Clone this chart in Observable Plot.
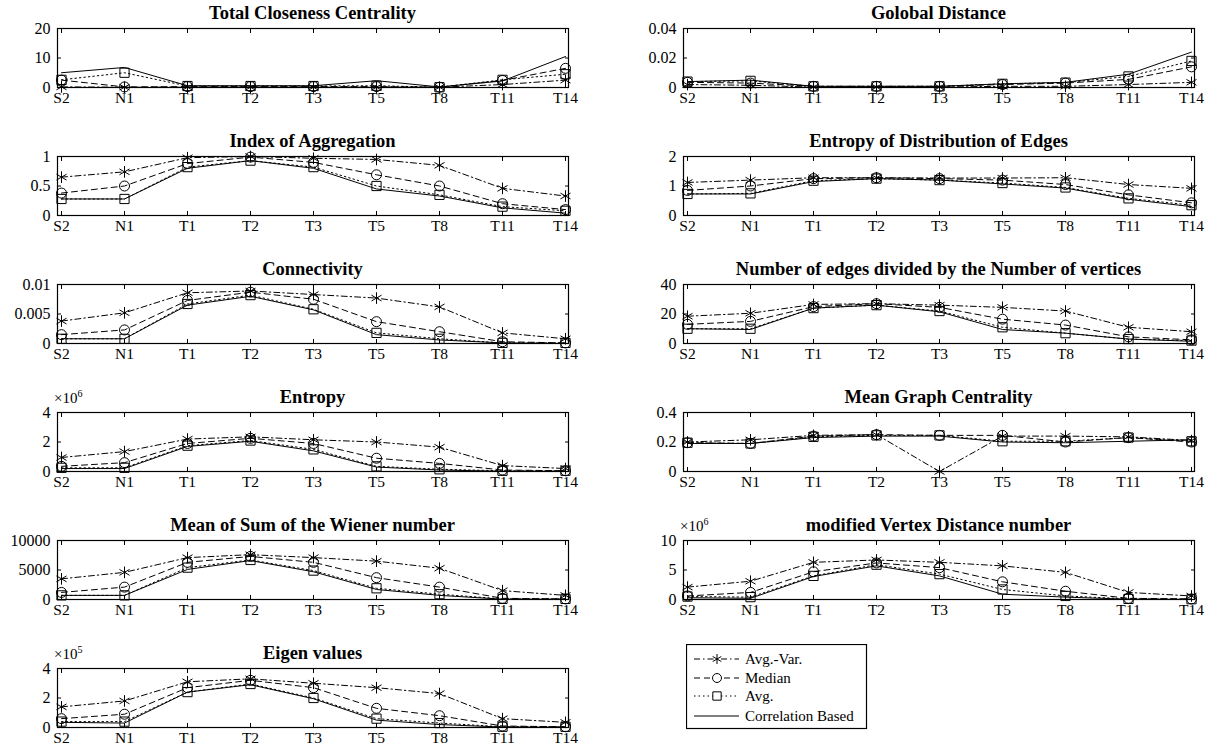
<!DOCTYPE html>
<html><head><meta charset="utf-8">
<script src="https://cdn.jsdelivr.net/npm/d3@7"></script>
<script src="https://cdn.jsdelivr.net/npm/@observablehq/plot@0.6"></script>
<style>
body{margin:0;background:#fff;}
#root{position:relative;width:1216px;height:747px;overflow:hidden;font-family:"Liberation Serif","Times New Roman",serif;color:#000;}
#root svg text{font-family:"Liberation Serif","Times New Roman",serif !important;}
.title{position:absolute;font-weight:bold;font-size:18.5px;white-space:nowrap;transform:translate(-50%,-50%);line-height:1;}
.expo{position:absolute;font-size:15px;line-height:1;white-space:nowrap;}
.expo sup{font-size:10px;vertical-align:6px;}
.panel{position:absolute;}
</style></head><body><div id="root"></div>
<script>
const categories = ["S2","N1","T1","T2","T3","T5","T8","T11","T14"];
const seriesNames = ["Avg.-Var.","Median","Avg.","Correlation Based"];

// Total Closeness Centrality
const closenessAvgVar = [0.2, 0.1, 0.1, 0.1, 0.1, 0.1, 0.1, 1.0, 2.5];
const closenessMedian = [2.5, 0.2, 0.3, 0.3, 0.3, 0.3, 0.1, 2.4, 6.5];
const closenessAvg    = [2.6, 5.0, 0.5, 0.5, 0.5, 0.6, 0.1, 2.6, 4.5];
const closenessCorr   = [5.0, 6.8, 0.6, 0.6, 0.6, 2.3, 0.2, 2.2, 10.5];
// Index of Aggregation
const aggregationAvgVar = [0.65, 0.74, 0.98, 1.0, 0.97, 0.95, 0.85, 0.46, 0.33];
const aggregationMedian = [0.38, 0.5, 0.88, 0.99, 0.9, 0.69, 0.5, 0.2, 0.1];
const aggregationAvg    = [0.28, 0.28, 0.82, 0.93, 0.82, 0.5, 0.35, 0.15, 0.08];
const aggregationCorr   = [0.28, 0.28, 0.8, 0.93, 0.8, 0.45, 0.33, 0.13, 0.04];
// Connectivity
const connectivityAvgVar = [0.0038, 0.0052, 0.0086, 0.0089, 0.0083, 0.0077, 0.0062, 0.0018, 0.0008];
const connectivityMedian = [0.0015, 0.0023, 0.0073, 0.0087, 0.0075, 0.0037, 0.002, 0.0003, 0.0001];
const connectivityAvg    = [0.0008, 0.0008, 0.0067, 0.0082, 0.0058, 0.0018, 0.0008, 0.0001, 0.0001];
const connectivityCorr   = [0.0008, 0.0008, 0.0065, 0.008, 0.0057, 0.0015, 0.0006, 0.0001, 0.0];
// Entropy (x10^6)
const entropyAvgVar = [0.95, 1.35, 2.2, 2.35, 2.15, 2.0, 1.65, 0.4, 0.2];
const entropyMedian = [0.35, 0.6, 1.9, 2.25, 1.9, 0.9, 0.55, 0.1, 0.05];
const entropyAvg    = [0.25, 0.25, 1.75, 2.1, 1.5, 0.35, 0.15, 0.05, 0.05];
const entropyCorr   = [0.2, 0.2, 1.7, 2.05, 1.4, 0.3, 0.1, 0.02, 0.02];
// Mean of Sum of the Wiener number
const wienerAvgVar = [3500, 4600, 7100, 7600, 7100, 6500, 5300, 1500, 700];
const wienerMedian = [1200, 2100, 6300, 7300, 6300, 3700, 2100, 200, 100];
const wienerAvg    = [700, 700, 5400, 6700, 4900, 1900, 900, 100, 100];
const wienerCorr   = [700, 700, 5100, 6600, 4700, 1700, 700, 50, 50];
// Eigen values (x10^5)
const eigenAvgVar = [1.4, 1.8, 3.1, 3.3, 3.0, 2.7, 2.3, 0.6, 0.35];
const eigenMedian = [0.6, 0.9, 2.7, 3.2, 2.7, 1.3, 0.8, 0.1, 0.05];
const eigenAvg    = [0.4, 0.4, 2.4, 2.95, 2.0, 0.6, 0.3, 0.05, 0.05];
const eigenCorr   = [0.35, 0.3, 2.4, 2.9, 1.95, 0.5, 0.2, 0.03, 0.02];
// Golobal Distance
const distanceAvgVar = [0.002, 0.0015, 0.0003, 0.0003, 0.0003, 0.0008, 0.0008, 0.002, 0.0035];
const distanceMedian = [0.0035, 0.003, 0.0008, 0.0008, 0.0008, 0.002, 0.003, 0.0055, 0.014];
const distanceAvg    = [0.004, 0.0045, 0.0008, 0.0008, 0.0008, 0.0025, 0.0033, 0.0075, 0.018];
const distanceCorr   = [0.004, 0.005, 0.0008, 0.0008, 0.0008, 0.0025, 0.0035, 0.009, 0.024];
// Entropy of Distribution of Edges
const edgeEntropyAvgVar = [1.12, 1.2, 1.28, 1.28, 1.27, 1.27, 1.28, 1.05, 0.92];
const edgeEntropyMedian = [0.85, 1.0, 1.25, 1.28, 1.25, 1.2, 1.05, 0.7, 0.43];
const edgeEntropyAvg    = [0.73, 0.75, 1.18, 1.25, 1.2, 1.1, 0.95, 0.58, 0.35];
const edgeEntropyCorr   = [0.73, 0.73, 1.15, 1.25, 1.2, 1.07, 0.93, 0.55, 0.3];
// Number of edges divided by the Number of vertices
const ratioAvgVar = [18.5, 20.5, 26.5, 27, 26, 24.5, 22, 11, 8];
const ratioMedian = [13, 15, 25, 27, 24.5, 16.5, 12.5, 4.5, 2.5];
const ratioAvg    = [10, 10, 24, 26, 22, 11, 7, 3, 2];
const ratioCorr   = [10, 9.5, 24, 26, 21.5, 9.5, 7, 3, 1.5];
// Mean Graph Centrality
const centralityAvgVar = [0.2, 0.215, 0.245, 0.25, 0.0, 0.24, 0.24, 0.235, 0.21];
const centralityMedian = [0.195, 0.19, 0.24, 0.25, 0.245, 0.245, 0.2, 0.23, 0.2];
const centralityAvg    = [0.195, 0.19, 0.235, 0.245, 0.245, 0.205, 0.205, 0.23, 0.205];
const centralityCorr   = [0.19, 0.19, 0.23, 0.24, 0.24, 0.2, 0.195, 0.205, 0.215];
// modified Vertex Distance number (x10^6)
const vertexAvgVar = [2.1, 3.1, 6.3, 6.7, 6.3, 5.7, 4.6, 1.2, 0.6];
const vertexMedian = [0.6, 1.2, 4.7, 6.2, 5.4, 3.0, 1.4, 0.2, 0.1];
const vertexAvg    = [0.5, 0.4, 4.0, 5.9, 4.3, 1.7, 0.6, 0.1, 0.05];
const vertexCorr   = [0.3, 0.2, 3.9, 5.7, 4.0, 0.9, 0.4, 0.05, 0.03];

const panels = [
  {title:"Total Closeness Centrality", col:0, row:0, ticks:[0,10,20], series:[closenessAvgVar, closenessMedian, closenessAvg, closenessCorr]},
  {title:"Index of Aggregation", col:0, row:1, ticks:[0,0.5,1], series:[aggregationAvgVar, aggregationMedian, aggregationAvg, aggregationCorr]},
  {title:"Connectivity", col:0, row:2, ticks:[0,0.005,0.01], series:[connectivityAvgVar, connectivityMedian, connectivityAvg, connectivityCorr]},
  {title:"Entropy", col:0, row:3, ticks:[0,2,4], expo:"6", series:[entropyAvgVar, entropyMedian, entropyAvg, entropyCorr]},
  {title:"Mean of Sum of the Wiener number", col:0, row:4, ticks:[0,5000,10000], series:[wienerAvgVar, wienerMedian, wienerAvg, wienerCorr]},
  {title:"Eigen values", col:0, row:5, ticks:[0,2,4], expo:"5", series:[eigenAvgVar, eigenMedian, eigenAvg, eigenCorr]},
  {title:"Golobal Distance", col:1, row:0, ticks:[0,0.02,0.04], series:[distanceAvgVar, distanceMedian, distanceAvg, distanceCorr]},
  {title:"Entropy of Distribution of Edges", col:1, row:1, ticks:[0,1,2], series:[edgeEntropyAvgVar, edgeEntropyMedian, edgeEntropyAvg, edgeEntropyCorr]},
  {title:"Number of edges divided by the Number of vertices", col:1, row:2, ticks:[0,20,40], series:[ratioAvgVar, ratioMedian, ratioAvg, ratioCorr]},
  {title:"Mean Graph Centrality", col:1, row:3, ticks:[0,0.2,0.4], series:[centralityAvgVar, centralityMedian, centralityAvg, centralityCorr]},
  {title:"modified Vertex Distance number", col:1, row:4, ticks:[0,5,10], expo:"6", series:[vertexAvgVar, vertexMedian, vertexAvg, vertexCorr]}
];

const styles = [
  {dash:"6,3,1.5,3", symbol:"asterisk", r:5.5},
  {dash:"6,4", symbol:"circle", r:5},
  {dash:"1.5,3", symbol:"square", r:5.2},
  {dash:null, symbol:null}
];

const root = document.getElementById("root");
const FW = 511, FH = 59, mL = 62, mR = 20, mT = 8, mB = 24;
const colLeft = [57, 683];
const rowTop = r => 28 + 128 * r;
const font = '"Liberation Serif","Times New Roman",serif';

for (const p of panels) {
  const rows = [];
  p.series.forEach((vals, si) => vals.forEach((v, i) => rows.push({cat: categories[i], v, s: si})));
  const marks = [
    Plot.axisX({anchor:"bottom", tickSize:-4, tickPadding:8, label:null, fontSize:15.5, fontFamily:font}),
    Plot.axisX({anchor:"top", tickSize:-4, tickFormat:() => "", label:null}),
    Plot.axisY({anchor:"left", ticks:p.ticks, tickSize:-4, tickPadding:11, tickFormat:d => String(d), label:null, fontSize:16, fontFamily:font}),
    Plot.axisY({anchor:"right", ticks:p.ticks, tickSize:-4, tickFormat:() => "", label:null})
  ];
  styles.forEach((st, si) => {
    const data = rows.filter(d => d.s === si);
    marks.push(Plot.line(data, {x:"cat", y:"v", stroke:"black", strokeWidth:1, strokeDasharray:st.dash}));
  });
  styles.forEach((st, si) => {
    if (!st.symbol) return;
    const data = rows.filter(d => d.s === si);
    marks.push(Plot.dot(data, {x:"cat", y:"v", symbol:st.symbol, r:st.r, stroke:"black", fill:"none", strokeWidth:1}));
  });
  marks.push(Plot.frame({stroke:"black", strokeWidth:1.2}));
  const svg = Plot.plot({
    width: FW + mL + mR, height: FH + mT + mB,
    marginLeft: mL, marginRight: mR, marginTop: mT, marginBottom: mB,
    style: {fontFamily: font, fontSize: "16px", color: "black", background: "transparent", overflow: "visible"},
    x: {type:"point", domain: categories, padding: 0},
    y: {domain: [0, p.ticks[2]]},
    marks
  });
  const left = colLeft[p.col], top = rowTop(p.row);
  svg.classList.add("panel");
  svg.style.left = (left - mL) + "px";
  svg.style.top = (top - mT) + "px";
  root.appendChild(svg);
  const t = document.createElement("div");
  t.className = "title";
  t.textContent = p.title;
  t.style.left = (left + FW / 2) + "px";
  t.style.top = (top - 15) + "px";
  root.appendChild(t);
  if (p.expo) {
    const e = document.createElement("div");
    e.className = "expo";
    e.innerHTML = "×10<sup>" + p.expo + "</sup>";
    e.style.left = (left - 3) + "px";
    e.style.top = (top - 23) + "px";
    root.appendChild(e);
  }
}

// legend
const ns = "http://www.w3.org/2000/svg";
const lg = document.createElementNS(ns, "svg");
lg.setAttribute("width", 190); lg.setAttribute("height", 90);
lg.classList.add("panel");
lg.style.left = "686px"; lg.style.top = "644px";
lg.style.fontFamily = font; lg.style.fontSize = "15px";
const rect = document.createElementNS(ns, "rect");
rect.setAttribute("x", 0.5); rect.setAttribute("y", 0.5); rect.setAttribute("width", 180); rect.setAttribute("height", 84);
rect.setAttribute("fill", "white"); rect.setAttribute("stroke", "black"); rect.setAttribute("stroke-width", 1.2);
lg.appendChild(rect);
const entryY = [15, 34, 52, 72];
styles.forEach((st, i) => {
  const y = entryY[i];
  const ln = document.createElementNS(ns, "line");
  ln.setAttribute("x1", 8); ln.setAttribute("x2", 53); ln.setAttribute("y1", y); ln.setAttribute("y2", y);
  ln.setAttribute("stroke", "black"); ln.setAttribute("stroke-width", 1);
  if (st.dash) ln.setAttribute("stroke-dasharray", st.dash);
  lg.appendChild(ln);
  if (st.symbol) {
    const g = document.createElementNS(ns, "path");
    let d;
    if (st.symbol === "asterisk") {
      const a = 5; d = "";
      for (let k = 0; k < 3; k++) { const ang = Math.PI / 2 + k * Math.PI / 3; d += `M${-a*Math.cos(ang)},${-a*Math.sin(ang)}L${a*Math.cos(ang)},${a*Math.sin(ang)}`; }
    } else if (st.symbol === "circle") {
      d = d3.symbol(d3.symbolCircle, Math.PI * 20)();
    } else {
      d = d3.symbol(d3.symbolSquare, Math.PI * 22)();
    }
    g.setAttribute("d", d);
    g.setAttribute("transform", `translate(31,${y})`);
    g.setAttribute("fill", "white"); g.setAttribute("stroke", "black"); g.setAttribute("stroke-width", 1);
    lg.appendChild(g);
  }
  const tx = document.createElementNS(ns, "text");
  tx.setAttribute("x", 59); tx.setAttribute("y", y); tx.setAttribute("dy", "0.35em");
  tx.textContent = seriesNames[i];
  lg.appendChild(tx);
});
root.appendChild(lg);
</script></body></html>
